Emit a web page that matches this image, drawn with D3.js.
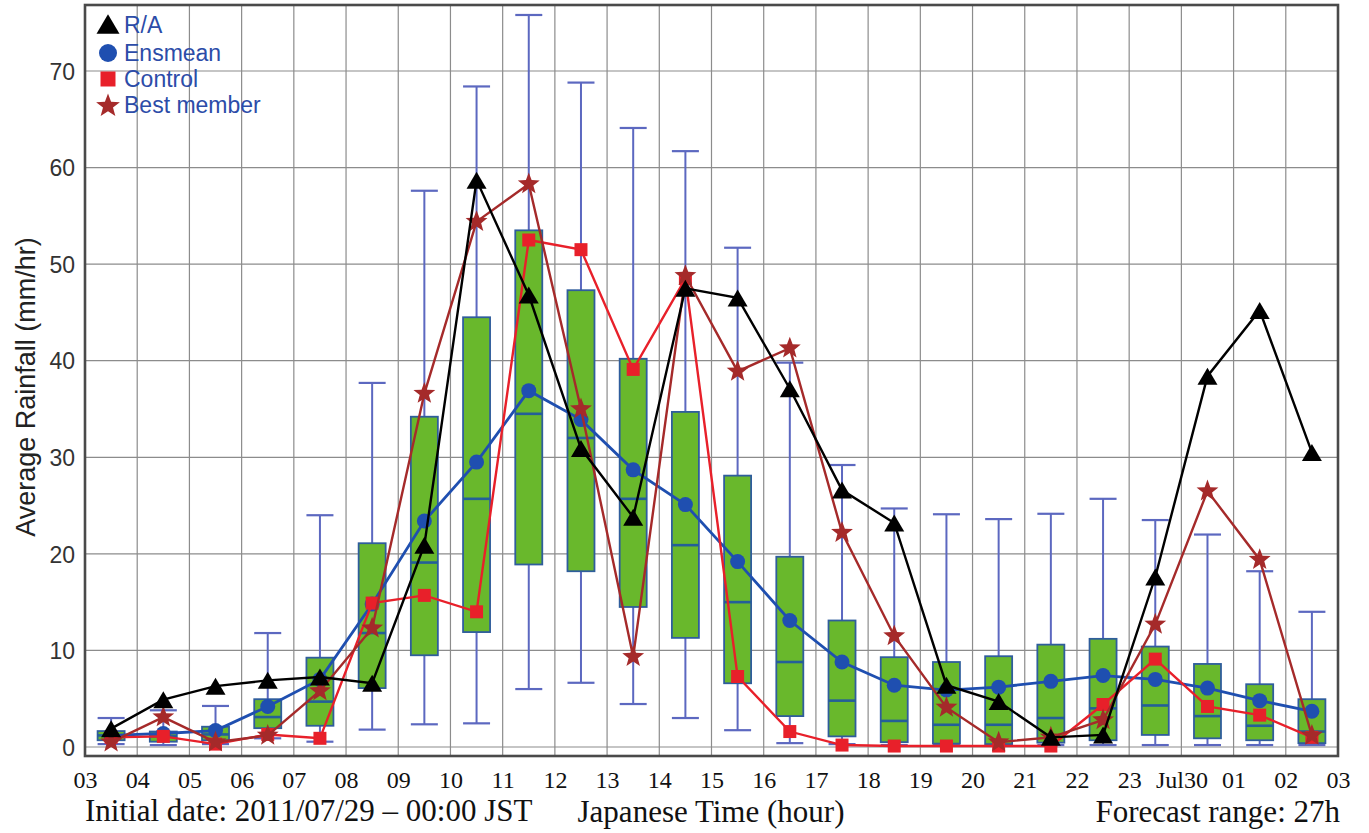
<!DOCTYPE html>
<html><head><meta charset="utf-8">
<script src="https://cdn.jsdelivr.net/npm/d3@7"></script>
<style>
html,body{margin:0;padding:0;background:#fff;}
svg{display:block;}
</style></head>
<body>
<svg id="chart" width="1369" height="833"></svg>
<script>
// ---- data ----
const hourLabels = ["03","04","05","06","07","08","09","10","11","12","13","14","15","16","17","18","19","20","21","22","23","Jul30","01","02","03"];
const yTicks = [0,10,20,30,40,50,60,70];
// box stats per hour (centred at half hour): low whisker, q1, median, q3, high whisker
const whiskerLow  = [0.3,0.2,0.3,0.9,0.55,1.8,2.35,2.45,6.0,6.65,4.45,3.0,1.74,0.4,0.3,0.2,0.2,0.2,0.2,0.2,0.2,0.2,0.2,0.2];
const q1          = [0.7,0.55,0.7,1.95,2.2,6.1,9.5,11.9,18.9,18.2,14.5,11.3,6.6,3.2,1.1,0.5,0.35,0.3,0.45,0.7,1.25,0.9,0.7,0.4];
const median      = [1.2,1.1,1.3,3.1,4.7,11.8,19.1,25.7,34.5,32.0,25.7,20.9,15.0,8.8,4.8,2.7,2.3,2.3,3.0,4.0,4.3,3.2,2.2,1.6];
const q3          = [1.65,1.6,2.1,4.95,9.25,21.1,34.2,44.5,53.5,47.3,40.2,34.7,28.1,19.7,13.1,9.3,8.8,9.4,10.6,11.2,10.4,8.6,6.5,4.95];
const whiskerHigh = [3.0,3.8,4.25,11.8,24.0,37.7,57.6,68.4,75.8,68.8,64.1,61.7,51.7,39.8,29.2,24.7,24.1,23.6,24.15,25.7,23.5,22.0,18.2,14.0];
const ensmean     = [1.2,1.4,1.7,4.2,7.0,14.8,23.4,29.5,36.9,33.9,28.7,25.1,19.2,13.1,8.8,6.4,5.9,6.2,6.8,7.4,7.0,6.1,4.8,3.7];
const control     = [1.0,1.1,0.3,1.3,0.9,14.9,15.7,14.0,52.5,51.5,39.1,48.5,7.3,1.6,0.2,0.1,0.1,0.1,0.1,4.4,9.1,4.2,3.3,1.0];
const bestMember  = [0.5,3.1,0.5,1.2,5.8,12.3,36.6,54.4,58.3,35.0,9.35,48.8,38.9,41.3,22.2,11.5,4.1,0.5,1.0,2.8,12.7,26.5,19.4,1.2];
const ra          = [1.9,4.9,6.3,6.9,7.25,6.6,20.9,58.7,46.8,30.9,23.8,47.5,46.5,37.1,26.6,23.2,6.4,4.7,1.0,1.25,17.6,38.4,45.2,30.5];
const legendNames = ["R/A","Ensmean","Control","Best member"];

// ---- layout ----
const svg = d3.select("#chart");
const L = 85, R = 1338, T = 5, B = 756;
const x = d3.scaleLinear().domain([0, 24]).range([L, R]);
const y = d3.scaleLinear().domain([0, 70]).range([747, 71]);
const idx = d3.range(24);
const cx = i => x(i + 0.5);

const col = {ra:"#000000", ens:"#1f4fb0", ctl:"#e8202a", best:"#a52a2a",
  boxFill:"#69b82c", boxStroke:"#2f5d9c", whisk:"#5c68c0", med:"#245f98", grid:"#8c8c8c", legendText:"#2c4ca8"};

// custom symbols
const triSym = { draw(ctx, s){ const w=s, h=s*0.85; ctx.moveTo(0,-h/2); ctx.lineTo(w/2,h/2); ctx.lineTo(-w/2,h/2); ctx.closePath(); } };
const starSym = { draw(ctx, r){ const ri = r*0.42; for(let k=0;k<10;k++){ const a = -Math.PI/2 + k*Math.PI/5; const rr = k%2===0? r: ri; const px=Math.cos(a)*rr, py=Math.sin(a)*rr; if(k===0) ctx.moveTo(px,py); else ctx.lineTo(px,py);} ctx.closePath(); } };
const sqSym = { draw(ctx, s){ ctx.rect(-s/2,-s/2,s,s); } };
const circSym = { draw(ctx, r){ ctx.moveTo(r,0); ctx.arc(0,0,r,0,2*Math.PI); } };

// ---- grid ----
const g = svg.append("g");
g.selectAll(".hg").data(yTicks).enter().append("line")
  .attr("x1", L).attr("x2", R).attr("y1", d=>y(d)).attr("y2", d=>y(d))
  .attr("stroke", col.grid).attr("stroke-width", 1.2);
g.selectAll(".vg").data(d3.range(1,24)).enter().append("line")
  .attr("x1", d=>x(d)).attr("x2", d=>x(d)).attr("y1", T).attr("y2", B)
  .attr("stroke", col.grid).attr("stroke-width", 1.2);

// ---- boxes ----
const bw = 27;
const boxes = svg.append("g");
idx.forEach(i => {
  const gx = cx(i);
  boxes.append("line").attr("x1", gx).attr("x2", gx).attr("y1", y(whiskerLow[i])).attr("y2", y(whiskerHigh[i]))
    .attr("stroke", col.whisk).attr("stroke-width", 2);
  [whiskerLow[i], whiskerHigh[i]].forEach(v => {
    boxes.append("line").attr("x1", gx-bw/2).attr("x2", gx+bw/2).attr("y1", y(v)).attr("y2", y(v))
      .attr("stroke", col.whisk).attr("stroke-width", 2.2);
  });
  boxes.append("rect").attr("x", gx-bw/2).attr("width", bw)
    .attr("y", y(q3[i])).attr("height", y(q1[i]) - y(q3[i]))
    .attr("fill", col.boxFill).attr("stroke", col.boxStroke).attr("stroke-width", 1.8);
  boxes.append("line").attr("x1", gx-bw/2).attr("x2", gx+bw/2).attr("y1", y(median[i])).attr("y2", y(median[i]))
    .attr("stroke", col.med).attr("stroke-width", 2.6);
});

// ---- series ----
const line = d3.line().x((d,i)=>cx(i)).y(d=>y(d));
function series(data, color, width, sym, size){
  const s = svg.append("g");
  s.append("path").datum(data).attr("d", line).attr("fill","none").attr("stroke", color).attr("stroke-width", width);
  s.selectAll("path.m").data(data).enter().append("path").attr("class","m")
    .attr("d", d3.symbol().type(sym).size(size))
    .attr("transform", (d,i)=>`translate(${cx(i)},${y(d)})`)
    .attr("fill", color);
}
series(ensmean, col.ens, 2.8, circSym, 7.5);
series(control, col.ctl, 2.4, sqSym, 13);
series(bestMember, col.best, 2.4, starSym, 11.5);
series(ra, col.ra, 2.4, triSym, 20);

// ---- frame ----
svg.append("rect").attr("x", L).attr("y", T).attr("width", R-L).attr("height", B-T)
  .attr("fill","none").attr("stroke","#4a4a4a").attr("stroke-width", 2.6);

// ---- axes ----
const yAxis = d3.axisLeft(y).tickValues(yTicks).tickSize(0).tickPadding(10);
const ya = svg.append("g").attr("transform", `translate(${L},0)`).call(yAxis);
ya.select(".domain").remove();
ya.selectAll("text").attr("font-family","'Liberation Sans', Arial, sans-serif").attr("font-size", 23).attr("fill","#333").attr("dy","0.36em");

const xAxis = d3.axisBottom(x).tickValues(d3.range(25)).tickFormat(i=>hourLabels[i]).tickSize(0).tickPadding(0);
const xa = svg.append("g").attr("transform", `translate(0,${B})`).call(xAxis);
xa.select(".domain").remove();
xa.selectAll("text").attr("font-family","'Liberation Serif', 'Times New Roman', serif").attr("font-size", 24).attr("fill","#111").attr("y", 32).attr("dy", 0);

// ---- titles ----
svg.append("text").attr("transform","translate(35,387) rotate(-90)").attr("text-anchor","middle")
  .attr("font-family","'Liberation Sans', Arial, sans-serif").attr("font-size", 27).attr("fill","#222")
  .text("Average Rainfall (mm/hr)");
const serif = "'Liberation Serif', 'Times New Roman', serif";
svg.append("text").attr("x", 85).attr("y", 821).attr("font-family", serif).attr("font-size", 31).attr("fill","#111")
  .text("Initial date: 2011/07/29 \u2013 00:00 JST");
svg.append("text").attr("x", 711).attr("y", 822).attr("text-anchor","middle").attr("font-family", serif).attr("font-size", 31).attr("fill","#111")
  .text("Japanese Time (hour)");
svg.append("text").attr("x", 1340).attr("y", 822).attr("text-anchor","end").attr("font-family", serif).attr("font-size", 31).attr("fill","#111")
  .text("Forecast range: 27h");

// ---- legend ----
const leg = svg.append("g");
const legSyms = [[triSym,23,col.ra,24],[circSym,9,col.ens,53],[sqSym,15,col.ctl,79],[starSym,12.5,col.best,106]];
const legBase = [33,61,87,113];
legendNames.forEach((name,k)=>{
  const [sym,size,c,cy] = legSyms[k];
  leg.append("path").attr("d", d3.symbol().type(sym).size(size)).attr("transform",`translate(108,${cy})`).attr("fill", c);
  leg.append("text").attr("x",124).attr("y",legBase[k]).attr("font-family","'Liberation Sans', Arial, sans-serif")
    .attr("font-size",23).attr("fill",col.legendText).text(name);
});
</script>
</body></html>
